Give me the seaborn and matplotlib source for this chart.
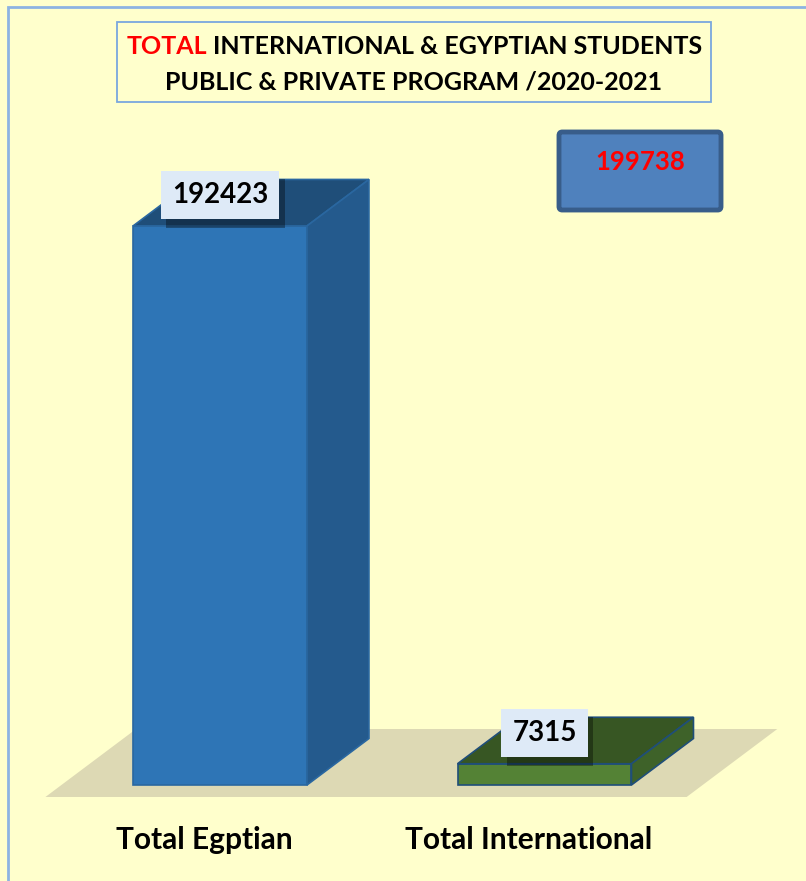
import numpy as np
import pandas as pd
import matplotlib.pyplot as plt
import seaborn as sns
from matplotlib.patches import Polygon, Rectangle, FancyBboxPatch
import matplotlib.patheffects as pe
import matplotlib.transforms as mtransforms

sns.set_theme(style="white")
plt.rcParams['font.family'] = ['Lato', 'DejaVu Sans']

# data
categories = ["Total Egptian", "Total International"]
students = [192423, 7315]
total_students = 199738
title_red = "TOTAL"
title_rest = "INTERNATIONAL & EGYPTIAN STUDENTS"
title_line2 = "PUBLIC & PRIVATE PROGRAM /2020-2021"

front_colors = ["#2E75B6", "#548235"]
top_colors = ["#1F4E79", "#375623"]
side_colors = ["#245A8D", "#3E6229"]
edge_colors = ["#2A67A0", "#1F4E79"]
bg = "#FFFFCC"

W, H = 806, 881
fig = plt.figure(figsize=(W / 100, H / 100), dpi=100, facecolor=bg)

# axes: value 0 sits at pixel row 785, bottom of axes at row 815
S = 344.2          # values per pixel
PX = 324.5         # pixels per category step
bottom_px = 815
ax = fig.add_axes([0, (H - bottom_px) / H, 1, bottom_px / H])
ax.set_facecolor(bg)

df = pd.DataFrame({"category": categories, "students": students})
sns.barplot(data=df, x="category", y="students", hue="category",
            palette=front_colors, width=0.536, legend=False, ax=ax,
            saturation=1, zorder=3)

ax.set_ylim(-(bottom_px - 785) * S, 785 * S)
ax.set_xlim(-220 / PX, (W - 220) / PX)

dx = 62 / PX
dy = 46.5 * S

bars = sorted(ax.patches, key=lambda p: p.get_x())
for i, p in enumerate(bars):
    x0, w, h = p.get_x(), p.get_width(), p.get_height()
    p.set_edgecolor(edge_colors[i])
    p.set_linewidth(1.2)
    top = Polygon([(x0, h), (x0 + dx, h + dy), (x0 + w + dx, h + dy), (x0 + w, h)],
                  closed=True, facecolor=top_colors[i], edgecolor=edge_colors[i],
                  lw=1.2, zorder=3)
    side = Polygon([(x0 + w, 0), (x0 + w, h), (x0 + w + dx, h + dy), (x0 + w + dx, dy)],
                   closed=True, facecolor=side_colors[i], edgecolor=edge_colors[i],
                   lw=1.2, zorder=3)
    ax.add_patch(top)
    ax.add_patch(side)

    t = ax.text(x0 + w / 2, h + dy * 0.66, f"{students[i]}", ha="center", va="center",
                fontsize=20, fontweight="bold", color="black", zorder=6,
                bbox=dict(boxstyle="square,pad=0.4", facecolor="#DEEAF7",
                          edgecolor="none"))
    t.get_bbox_patch().set_path_effects(
        [pe.SimplePatchShadow(offset=(4, -6), shadow_rgbFace="black", alpha=0.35),
         pe.Normal()])

# floor
x_first = bars[0].get_x()
x_last = bars[-1].get_x() + bars[-1].get_width()
fl_front = -12 * S
fl_back = 56 * S
fl_dx = (fl_back - fl_front) / dy * dx
floor = Polygon([(x_first - 0.27, fl_front), (x_last + 0.17, fl_front),
                 (x_last + 0.17 + fl_dx, fl_back), (x_first - 0.27 + fl_dx, fl_back)],
                closed=True, facecolor="#DDD9B4", edgecolor="none", zorder=1)
ax.add_patch(floor)

ax.set_xlabel("")
ax.set_ylabel("")
ax.set_yticks([])
ax.set_xticks(range(len(categories)))
ax.set_xticklabels(categories, fontsize=21.5, fontweight="bold", color="black")
ax.tick_params(axis="x", length=0, pad=8)
shift = mtransforms.ScaledTranslation(-16 / 100, 0, fig.dpi_scale_trans)
for lbl in ax.get_xticklabels():
    lbl.set_transform(lbl.get_transform() + shift)
for s in ax.spines.values():
    s.set_visible(False)


def fx(px):
    return px / W


def fy(py):
    return 1 - py / H


# outer border
fig.add_artist(Rectangle((fx(8), fy(H + 10)), fx(W + 10 - 8), (H + 10 - 7) / H,
                         facecolor="none", edgecolor="#8DB3E2", lw=2, transform=fig.transFigure))

# title box
fig.add_artist(Rectangle((fx(117), fy(102)), fx(711 - 117), (102 - 22) / H,
                         facecolor=bg, edgecolor="#7AA7DE", lw=1.3, transform=fig.transFigure))

renderer = fig.canvas.get_renderer()
tkw = dict(fontsize=18, fontweight="bold", va="center", ha="left")
ta = fig.text(0, fy(47), title_red, color="red", **tkw)
tb = fig.text(0, fy(47), title_rest, color="black", **tkw)
wa = ta.get_window_extent(renderer).width
wb = tb.get_window_extent(renderer).width
gap = 6
x_start = 414 - (wa + gap + wb) / 2
ta.set_x(fx(x_start))
tb.set_x(fx(x_start + wa + gap))
fig.text(fx(414), fy(82), title_line2, color="black", fontsize=18, fontweight="bold",
         va="center", ha="center")

# total box
fig.add_artist(FancyBboxPatch((fx(559), fy(210)), fx(721 - 559), (210 - 132) / H,
                              boxstyle="round,pad=0,rounding_size=0.004",
                              facecolor="#4F81BD", edgecolor="#385D8A", lw=3.5,
                              transform=fig.transFigure))
fig.text(fx(640), fy(162), f"{total_students}", color="red", fontsize=18.5,
         fontweight="bold", ha="center", va="center")

fig.savefig("out.png", dpi=100, facecolor=bg)
